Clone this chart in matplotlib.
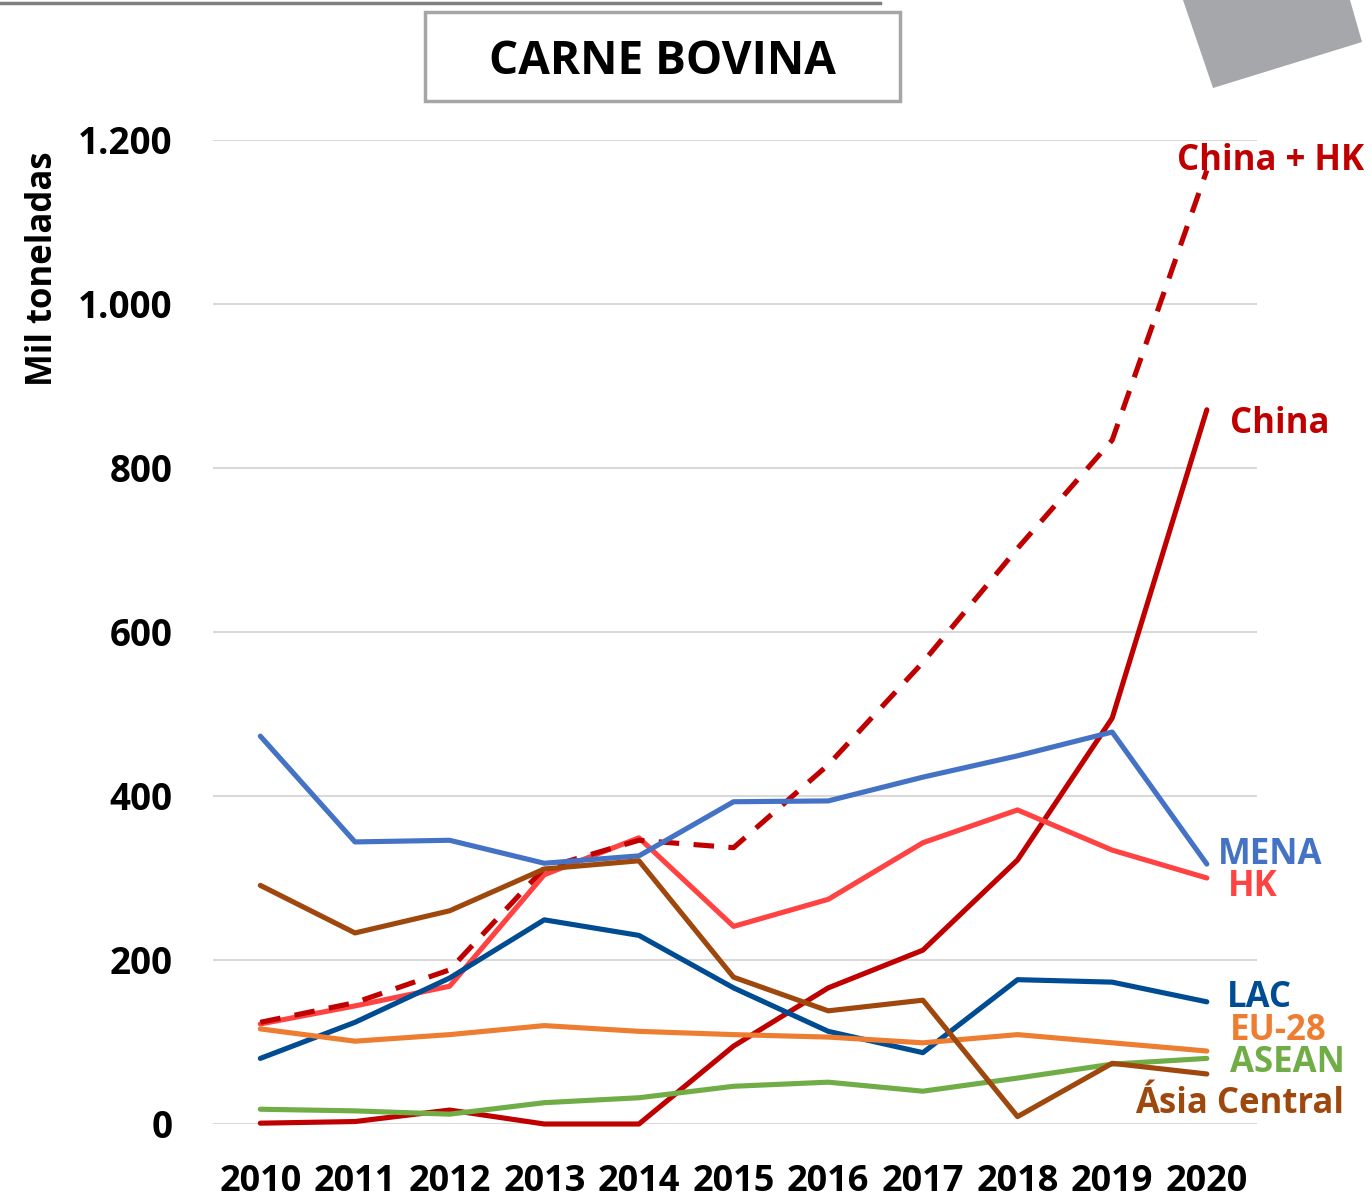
import matplotlib
matplotlib.use("Agg")
from matplotlib import pyplot as plt
from matplotlib.patches import Rectangle, Polygon
from matplotlib.lines import Line2D

# beef imports, thousand tonnes
years = [2010, 2011, 2012, 2013, 2014, 2015, 2016, 2017, 2018, 2019, 2020]
china = [1, 3, 17, 0, 0, 95, 166, 212, 322, 495, 871]
hk = [122, 144, 168, 304, 349, 241, 274, 343, 383, 334, 300]
china_hk = [124, 148, 188, 312, 346, 337, 438, 563, 702, 834, 1163]
mena = [473, 344, 346, 318, 327, 393, 394, 423, 449, 478, 317]
lac = [80, 124, 178, 249, 230, 166, 113, 87, 176, 173, 149]
eu28 = [116, 101, 109, 120, 113, 109, 106, 99, 109, 99, 89]
asean = [18, 16, 12, 26, 32, 46, 51, 40, 56, 73, 80]
asia_central = [291, 233, 260, 311, 321, 179, 138, 151, 9, 74, 61]

y_ticks = [0, 200, 400, 600, 800, 1000, 1200]
y_ticklabels = ["0", "200", "400", "600", "800", "1.000", "1.200"]

W, H = 1372, 1199
fig = plt.figure(figsize=(W / 100, H / 100), dpi=100)

def fx(px):
    return px / W

def fy(py):
    return 1 - py / H

ax = fig.add_axes([fx(213), fy(1124), fx(1257) - fx(213), fy(140) - fy(1124)])

lw = 3.7
ax.plot(years, china, color="#C00000", lw=lw, clip_on=False, solid_capstyle="round")
ax.plot(years, hk, color="#FF4343", lw=lw, clip_on=False, solid_capstyle="round")
ax.plot(years, china_hk, color="#C00000", lw=lw, ls=(0, (4, 2.8)), clip_on=False)
ax.plot(years, mena, color="#4472C4", lw=lw, clip_on=False, solid_capstyle="round")
ax.plot(years, lac, color="#004C93", lw=lw, clip_on=False, solid_capstyle="round")
ax.plot(years, eu28, color="#ED7D31", lw=lw, clip_on=False, solid_capstyle="round")
ax.plot(years, asean, color="#70AD47", lw=lw, clip_on=False, solid_capstyle="round")
ax.plot(years, asia_central, color="#9E480E", lw=lw, clip_on=False, solid_capstyle="round")

ax.set_xlim(2009.5, 2020.53)
ax.set_ylim(0, 1200)
ax.set_yticks(y_ticks)
ax.set_yticklabels(y_ticklabels, fontsize=26.5, fontweight="bold", family=["Open Sans", "DejaVu Sans"])
ax.set_xticks(years)
ax.set_xticklabels([str(y) for y in years], fontsize=26, fontweight="bold",
                   family=["Open Sans", "DejaVu Sans"])
ax.tick_params(axis="y", length=0, pad=29)
ax.tick_params(axis="x", length=0, pad=29)
ax.grid(axis="y", color="#D9D9D9", lw=1.5)
ax.set_axisbelow(True)
for s in ax.spines.values():
    s.set_visible(False)

fig.text(fx(43), fy(269), "Mil toneladas", rotation=90, fontsize=25, fontweight="bold",
         family=["Open Sans", "DejaVu Sans"], ha="center", va="center")

# series names at the line ends
lab = dict(fontsize=25, fontweight="bold", family=["Open Sans", "DejaVu Sans"], va="center", ha="left")
ax.text(2019.68, 1174, "China + HK", color="#C00000", **lab)
ax.text(2020.24, 854, "China", color="#C00000", **lab)
ax.text(2020.12, 328, "MENA", color="#4472C4", **lab)
ax.text(2020.22, 289, "HK", color="#FF4343", **lab)
ax.text(2020.21, 154, "LAC", color="#004C93", **lab)
ax.text(2020.24, 114, "EU-28", color="#ED7D31", **lab)
ax.text(2020.24, 75, "ASEAN", color="#70AD47", **lab)
ax.text(2019.24, 24, "Ásia Central", color="#9E480E", **lab)

# page decorations: top rule, title box, grey corner shape
fig.add_artist(Line2D([fx(0), fx(880)], [fy(3), fy(3)], color="#7F7F7F", lw=2.5))
fig.add_artist(Rectangle((fx(425), fy(101)), fx(900) - fx(425), fy(12) - fy(101),
                         transform=fig.transFigure, facecolor="white", edgecolor="#A6A6A6", lw=2.5))
fig.text(fx(662), fy(62), "CARNE BOVINA", fontsize=33, fontweight="bold",
         family=["Open Sans", "DejaVu Sans"], ha="center", va="center")
fig.add_artist(Polygon([(fx(1183), fy(0)), (fx(1350), fy(0)), (fx(1362), fy(42)), (fx(1213), fy(88))],
                       closed=True, transform=fig.transFigure, facecolor="#A6A7AA", edgecolor="none"))

plt.savefig("out.png", dpi=100)
